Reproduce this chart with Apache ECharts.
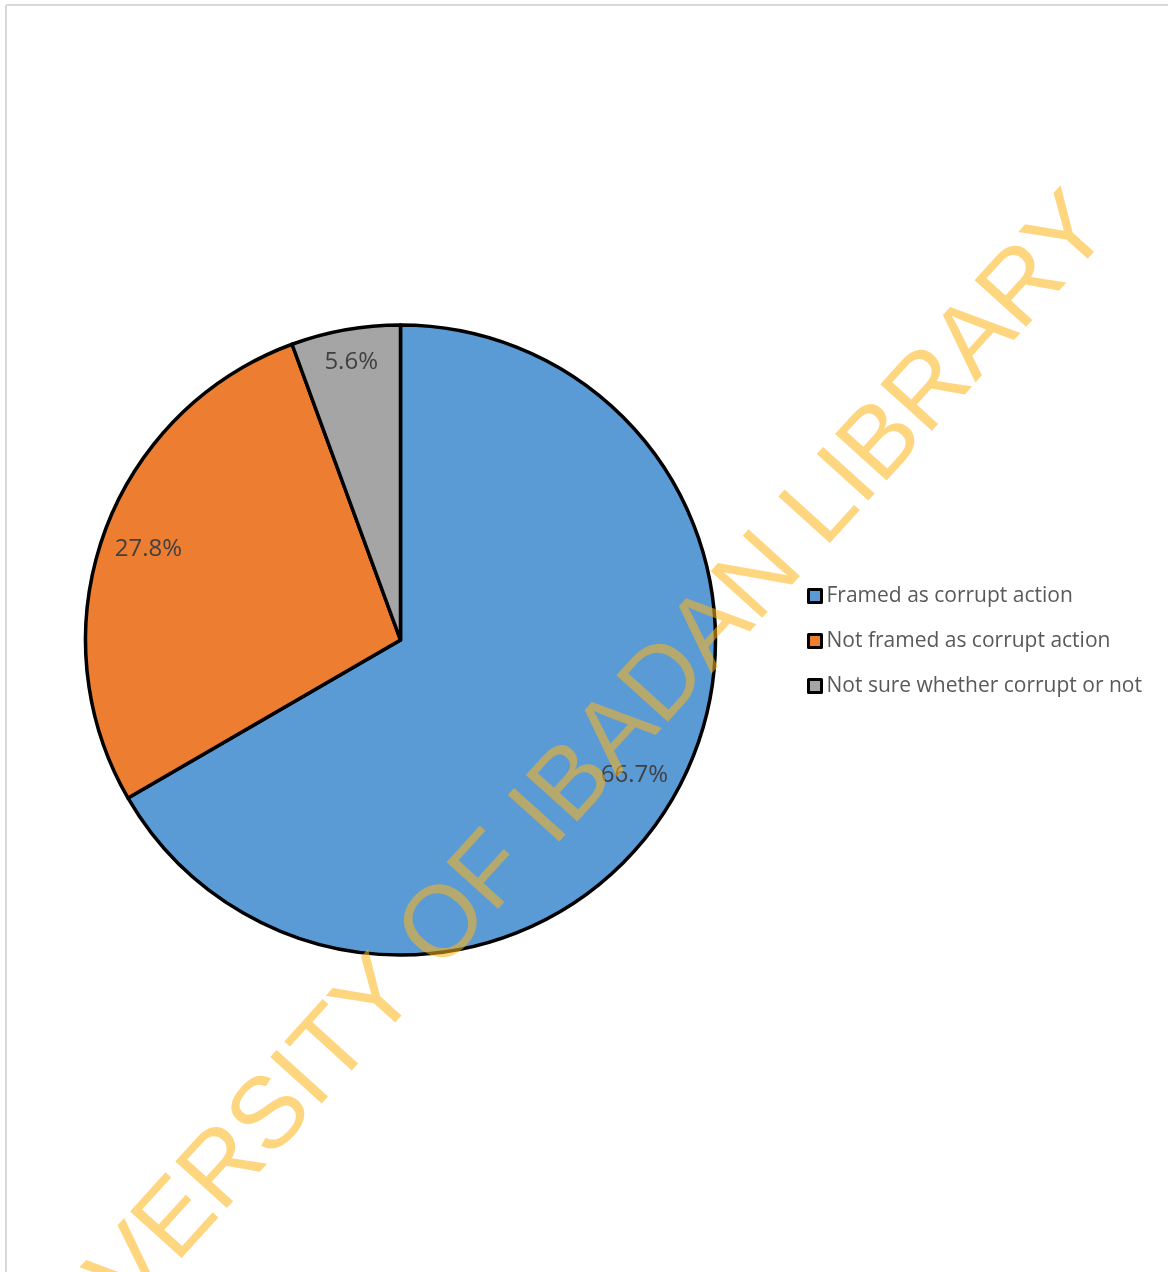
<!DOCTYPE html>
<html>
<head>
<meta charset="utf-8">
<title>Framing of corrupt action</title>
<script src="https://cdn.jsdelivr.net/npm/echarts@6/dist/echarts.min.js"></script>
<style>
  html, body { margin: 0; padding: 0; background: #ffffff; }
  #chart { width: 1168px; height: 1272px; }
</style>
</head>
<body>
<div id="chart"></div>
<script>
// Response categories and their shares (percent of respondents)
const categories = [
  'Framed as corrupt action',
  'Not framed as corrupt action',
  'Not sure whether corrupt or not'
];
const shares = [66.7, 27.8, 5.6];
const sliceColors = ['#5B9BD5', '#ED7D31', '#A5A5A5'];
const watermarkText = 'UNIVERSITY OF IBADAN LIBRARY';

const pieCenter = [400.5, 640];
const pieRadius = 315;

const sliceData = categories.map((name, i) => ({
  name: name,
  value: shares[i],
  itemStyle: { color: sliceColors[i] }
}));

// transparent ring whose mid-radius carries the percentage labels;
// `which` picks the slices whose label is shown on this ring
function labelRing(innerRadius, which) {
  return {
    type: 'pie',
    center: pieCenter,
    radius: [innerRadius, pieRadius],
    startAngle: 90,
    clockwise: true,
    silent: true,
    legendHoverLink: false,
    data: sliceData.map((d, i) => ({
      name: d.name,
      value: d.value,
      label: { show: which.indexOf(i) >= 0 }
    })),
    itemStyle: { color: 'rgba(0,0,0,0)', borderWidth: 0 },
    label: {
      position: 'inside',
      formatter: '{c}%',
      fontFamily: '"Open Sans", sans-serif',
      fontSize: 24,
      color: '#404040'
    },
    labelLine: { show: false },
    emphasis: { disabled: true }
  };
}

const chart = echarts.init(document.getElementById('chart'), null, { renderer: 'canvas' });

chart.setOption({
  animation: false,
  backgroundColor: '#ffffff',
  legend: {
    orient: 'vertical',
    left: 802,
    top: 579,
    itemWidth: 13,
    itemHeight: 13,
    itemGap: 21,
    icon: 'rect',
    data: categories,
    itemStyle: { borderColor: '#000000', borderWidth: 3 },
    textStyle: {
      fontFamily: '"Open Sans", sans-serif',
      fontSize: 21,
      color: '#595959',
      lineHeight: 24
    }
  },
  series: [
    {
      // the visible pie
      type: 'pie',
      center: pieCenter,
      radius: pieRadius,
      startAngle: 90,
      clockwise: true,
      data: sliceData,
      label: { show: false },
      labelLine: { show: false },
      itemStyle: { borderColor: '#000000', borderWidth: 3.5 },
      emphasis: { disabled: true }
    },
    labelRing(219, [0]),
    labelRing(215, [1]),
    labelRing(243, [2])
  ],
  graphic: [
    // page frame (top and left edges)
    {
      type: 'line',
      z: 1,
      shape: { x1: 6, y1: 5, x2: 1168, y2: 5 },
      style: { stroke: '#d9d9d9', lineWidth: 2 }
    },
    {
      type: 'line',
      z: 1,
      shape: { x1: 6, y1: 5, x2: 6, y2: 1272 },
      style: { stroke: '#d9d9d9', lineWidth: 2 }
    },
    // diagonal watermark
    {
      type: 'text',
      z: 100,
      x: 543,
      y: 818,
      rotation: 47.8 * Math.PI / 180,
      silent: true,
      style: {
        text: watermarkText,
        x: 0,
        y: 0,
        align: 'center',
        verticalAlign: 'middle',
        font: '101px "Liberation Sans", Arial, sans-serif',
        fill: 'rgba(255,180,24,0.55)'
      }
    }
  ]
});
</script>
</body>
</html>
